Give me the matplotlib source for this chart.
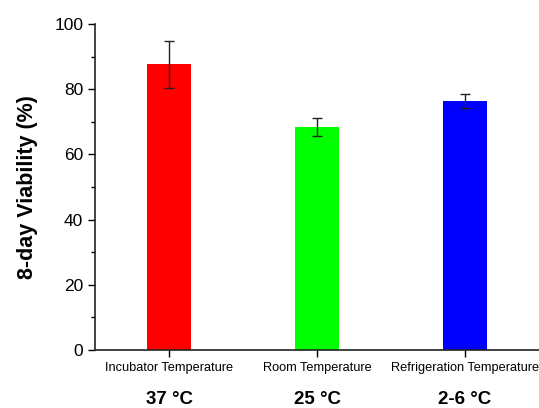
import matplotlib.pyplot as plt
from matplotlib.ticker import MultipleLocator

categories = ["Incubator Temperature", "Room Temperature", "Refrigeration Temperature"]
temps = ["37 \u00b0C", "25 \u00b0C", "2-6 \u00b0C"]
viability = [87.6, 68.4, 76.4]
errors = [7.3, 2.9, 2.2]
colors = ["#ff0000", "#00ff00", "#0000ff"]

plt.rcParams["font.family"] = ["Liberation Sans", "DejaVu Sans"]

fig = plt.figure(figsize=(5.39, 4.08), dpi=100)
ax = fig.add_axes([0.1763, 0.1422, 0.8237, 0.799])

x = [0.5, 1.5, 2.5]
ax.bar(x, viability, width=0.3, color=colors, edgecolor="none")
ax.errorbar(x, viability, yerr=errors, fmt="none", ecolor="#222222",
            elinewidth=1.0, capsize=3.5, capthick=1.0)

ax.set_xlim(0, 3)
ax.set_ylim(0, 100)
ax.set_xticks(x)
ax.set_xticklabels(categories, fontsize=9.2)
ax.yaxis.set_major_locator(MultipleLocator(20))
ax.yaxis.set_minor_locator(MultipleLocator(10))
ax.tick_params(axis="y", labelsize=12.5, direction="out", length=5, width=1)
ax.tick_params(axis="y", which="minor", length=3, width=1)
ax.tick_params(axis="x", direction="out", length=5, width=1, pad=4)
ax.spines["top"].set_visible(False)
ax.spines["right"].set_visible(False)
for s in ("left", "bottom"):
    ax.spines[s].set_linewidth(1.2)
    ax.spines[s].set_color("#222222")
ax.set_ylabel("8-day Viability (%)", fontsize=15.5, fontweight="bold", labelpad=12)

# bold temperature captions under the category labels
for xi, t in zip(x, temps):
    ax.text(xi, -15.3, t, ha="center", va="center", fontsize=13.5,
            fontweight="bold", clip_on=False)

fig.savefig("out.png", dpi=100)
